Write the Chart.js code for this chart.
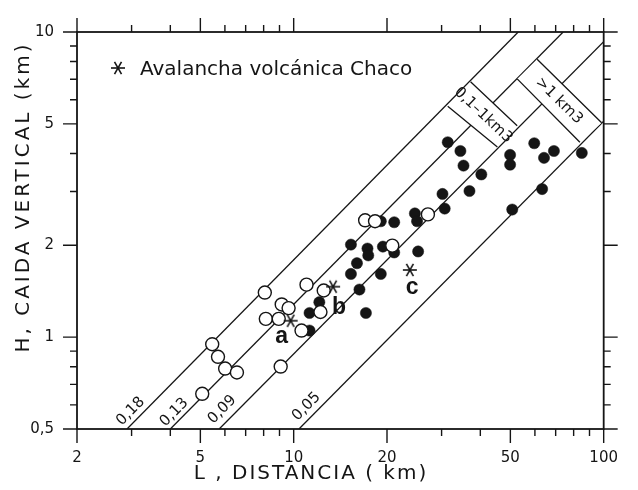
<!DOCTYPE html>
<html>
<head>
<meta charset="utf-8">
<script src="https://cdn.jsdelivr.net/npm/chart.js@4.4.0/dist/chart.umd.min.js"></script>
<style>
  html, body { margin: 0; padding: 0; background: #fff; }
</style>
</head>
<body>
<canvas id="chart" width="638" height="490"></canvas>
<script>
// axis ticks
const xTickValues = [2, 5, 10, 20, 50, 100];
const xTickLabels = ['2', '5', '10', '20', '50', '100'];
const xMinorTicks = [3, 4, 6, 7, 8, 9, 30, 40, 60, 70, 80, 90];
const yTickValues = [0.5, 1, 2, 5, 10];
const yTickLabels = ['0,5', '1', '2', '5', '10'];
const yMinorTicks = [0.6, 0.7, 0.8, 0.9, 3, 4, 6, 7, 8, 9];

// H/L reference lines (ends)
const lineNames = ['0,18', '0,13', '0,09', '0,05'];
const lineStartL = [2.9, 4.0, 5.75, 10.4];
const lineStartH = [0.5, 0.5, 0.5, 0.5];
const lineEndL = [53, 74, 100, 100];
const lineEndH = [10, 10, 9.3, 5.1];
const lineLabelL = [2.98, 4.12, 5.88, 11.0];
const lineLabelH = [0.571, 0.567, 0.579, 0.592];

// open circles
const openL = [8.07, 9.15, 9.63, 8.13, 8.95, 11.0, 10.6, 5.46, 5.70, 6.01, 6.56, 5.07, 9.08, 17.0, 18.3, 20.8, 12.5, 12.2, 27.1];
const openH = [1.40, 1.28, 1.245, 1.148, 1.148, 1.486, 1.051, 0.948, 0.862, 0.789, 0.766, 0.652, 0.801, 2.415, 2.398, 1.995, 1.422, 1.209, 2.525];

// filled circles
const filledL = [11.25, 11.25, 12.1, 15.3, 17.3, 17.4, 19.4, 16.0, 15.3, 19.1, 16.3, 17.1, 19.1, 21.1, 24.6, 25.0, 25.2, 30.2, 36.9, 30.7, 31.4, 34.5, 35.3, 40.3, 49.9, 49.9, 59.7, 64.2, 69.1, 85.0, 63.3, 50.7, 21.1];
const filledH = [1.20, 1.051, 1.302, 2.01, 1.951, 1.853, 1.98, 1.747, 1.611, 1.611, 1.432, 1.20, 2.398, 2.38, 2.544, 2.398, 1.909, 2.946, 3.012, 2.638, 4.352, 4.074, 3.648, 3.414, 3.955, 3.674, 4.32, 3.869, 4.074, 4.015, 3.057, 2.619, 1.895];

// Chaco avalanches
const chacoNames = ['a', 'b', 'c'];
const chacoL = [9.78, 13.4, 23.7];
const chacoH = [1.132, 1.464, 1.66];
const chacoLabelL = [9.15, 14.0, 24.1];
const chacoLabelH = [1.0, 1.245, 1.453];

// volume boxes, corners in order (two on one line, two on the other)
const boxNames = ['0,1–1km3', '>1 km3'];
const boxL = [[31.4, 37.2, 52.6, 45.4], [52.6, 61.0, 98.5, 83.8]];
const boxH = [[5.71, 6.87, 4.93, 4.20], [7.02, 8.14, 5.04, 4.35]];

const legendText = 'Avalancha volcánica Chaco';
const xTitle = 'L , DISTANCIA ( km)';
const yTitle = 'H, CAIDA VERTICAL (km)';

const INK = '#151515';
const FONT = '"DejaVu Sans", sans-serif';

function makeStar(r, lw) {
  const c = document.createElement('canvas');
  const s = Math.ceil(2 * r + lw + 2);
  c.width = s; c.height = s;
  const g = c.getContext('2d');
  g.strokeStyle = INK;
  g.lineWidth = lw;
  g.translate(s / 2, s / 2);
  for (let i = 0; i < 3; i++) {
    const a = i * Math.PI / 3;
    g.beginPath();
    g.moveTo(-r * Math.cos(a), -r * Math.sin(a));
    g.lineTo(r * Math.cos(a), r * Math.sin(a));
    g.stroke();
  }
  return c;
}
const star = makeStar(7, 1.6);

const zip = (xs, ys) => xs.map((x, i) => ({ x: x, y: ys[i] }));

const lineSets = lineNames.map((name, i) => ({
  label: name,
  data: [{ x: lineStartL[i], y: lineStartH[i] }, { x: lineEndL[i], y: lineEndH[i] }],
  showLine: true,
  borderColor: INK,
  borderWidth: 1.3,
  pointRadius: 0,
  order: 10
}));

const decorations = {
  id: 'decorations',
  afterDatasetDraw(chart, args) {
    // boxes go over the lines but under the points
    if (args.index !== 0) return;
    const ctx = chart.ctx, x = chart.scales.x, y = chart.scales.y;
    boxNames.forEach((name, b) => {
      const p = boxL[b].map((l, k) => ({ x: x.getPixelForValue(l), y: y.getPixelForValue(boxH[b][k]) }));
      ctx.save();
      ctx.fillStyle = '#fff';
      ctx.beginPath();
      ctx.moveTo(p[0].x, p[0].y);
      for (let k = 1; k < 4; k++) ctx.lineTo(p[k].x, p[k].y);
      ctx.closePath();
      ctx.fill();
      ctx.strokeStyle = INK;
      ctx.lineWidth = 1.3;
      ctx.beginPath();
      ctx.moveTo(p[1].x, p[1].y); ctx.lineTo(p[2].x, p[2].y);
      ctx.moveTo(p[3].x, p[3].y); ctx.lineTo(p[0].x, p[0].y);
      ctx.stroke();
      const cx = (p[0].x + p[1].x + p[2].x + p[3].x) / 4;
      const cy = (p[0].y + p[1].y + p[2].y + p[3].y) / 4;
      const ang = Math.atan2(p[2].y - p[1].y, p[2].x - p[1].x);
      ctx.translate(cx, cy);
      ctx.rotate(ang);
      ctx.fillStyle = INK;
      ctx.font = '15px ' + FONT;
      ctx.textAlign = 'center';
      ctx.textBaseline = 'middle';
      ctx.fillText(name, 0, 0);
      ctx.restore();
    });
  },
  afterDatasetsDraw(chart) {
    const ctx = chart.ctx, x = chart.scales.x, y = chart.scales.y;
    const a = chart.chartArea;
    ctx.save();
    // frame
    ctx.strokeStyle = INK;
    ctx.lineWidth = 1.8;
    ctx.strokeRect(a.left, a.top, a.right - a.left, a.bottom - a.top);
    // tick marks, outward on all four sides
    ctx.lineWidth = 1.4;
    ctx.beginPath();
    const xt = (v, len) => {
      const px = x.getPixelForValue(v);
      ctx.moveTo(px, a.bottom); ctx.lineTo(px, a.bottom + len);
      ctx.moveTo(px, a.top); ctx.lineTo(px, a.top - len);
    };
    const yt = (v, len) => {
      const py = y.getPixelForValue(v);
      ctx.moveTo(a.left, py); ctx.lineTo(a.left - len, py);
      ctx.moveTo(a.right, py); ctx.lineTo(a.right + len, py);
    };
    xTickValues.forEach(v => xt(v, 14));
    xMinorTicks.forEach(v => xt(v, 7));
    yTickValues.forEach(v => yt(v, 14));
    yMinorTicks.forEach(v => yt(v, 7));
    ctx.stroke();

    ctx.fillStyle = INK;
    // line ratio labels
    ctx.font = '15px ' + FONT;
    ctx.textAlign = 'center';
    ctx.textBaseline = 'middle';
    lineNames.forEach((name, i) => {
      const p0x = x.getPixelForValue(lineStartL[i]), p0y = y.getPixelForValue(lineStartH[i]);
      const p1x = x.getPixelForValue(lineEndL[i]), p1y = y.getPixelForValue(lineEndH[i]);
      ctx.save();
      ctx.translate(x.getPixelForValue(lineLabelL[i]), y.getPixelForValue(lineLabelH[i]));
      ctx.rotate(Math.atan2(p1y - p0y, p1x - p0x));
      ctx.fillText(name, 0, 0);
      ctx.restore();
    });
    // a, b, c
    ctx.font = 'bold 23px "Liberation Sans", sans-serif';
    chacoNames.forEach((name, i) => {
      ctx.fillText(name, x.getPixelForValue(chacoLabelL[i]), y.getPixelForValue(chacoLabelH[i]));
    });
    // legend
    ctx.drawImage(star, a.left + 41 - star.width / 2, a.top + 36 - star.height / 2);
    ctx.font = '20px ' + FONT;
    ctx.textAlign = 'left';
    ctx.textBaseline = 'alphabetic';
    ctx.fillText(legendText, a.left + 63, a.top + 43);
    // axis titles
    ctx.textAlign = 'center';
    ctx.textBaseline = 'middle';
    ctx.letterSpacing = '2px';
    ctx.fillText(xTitle, a.left + 234, a.bottom + 45);
    ctx.letterSpacing = '3px';
    ctx.save();
    ctx.translate(a.left - 53, a.top + 165);
    ctx.rotate(-Math.PI / 2);
    ctx.fillText(yTitle, 0, 0);
    ctx.restore();
    ctx.letterSpacing = '0px';
    ctx.restore();
  }
};

new Chart(document.getElementById('chart'), {
  type: 'scatter',
  data: {
    datasets: lineSets.concat([
      {
        label: 'Chaco',
        data: zip(chacoL, chacoH),
        pointStyle: star,
        pointRadius: 7,
        order: 0
      },
      {
        label: 'open',
        data: zip(openL, openH),
        pointRadius: 6.5,
        backgroundColor: '#fff',
        borderColor: INK,
        borderWidth: 1.4,
        order: 1
      },
      {
        label: 'filled',
        data: zip(filledL, filledH),
        pointRadius: 5.6,
        backgroundColor: INK,
        borderColor: INK,
        borderWidth: 0.5,
        order: 2
      }
    ])
  },
  options: {
    responsive: false,
    animation: false,
    devicePixelRatio: 1,
    layout: { padding: { top: 22, right: 31, left: 0, bottom: 0 } },
    plugins: { legend: { display: false }, tooltip: { enabled: false } },
    scales: {
      x: {
        type: 'logarithmic',
        min: 2,
        max: 100,
        afterBuildTicks: s => { s.ticks = xTickValues.map(v => ({ value: v })); },
        afterFit: s => { s.height = 61; },
        ticks: {
          callback: (v, i) => xTickLabels[i],
          font: { family: 'DejaVu Sans', size: 15 },
          color: INK,
          padding: 20,
          maxRotation: 0,
          autoSkip: false
        },
        grid: { display: false, drawTicks: false },
        border: { display: false }
      },
      y: {
        type: 'logarithmic',
        min: 0.5,
        max: 10,
        afterBuildTicks: s => { s.ticks = yTickValues.map(v => ({ value: v })); },
        afterFit: s => { s.width = 77; },
        ticks: {
          callback: (v, i) => yTickLabels[i],
          font: { family: 'DejaVu Sans', size: 15 },
          color: INK,
          padding: 23,
          autoSkip: false
        },
        grid: { display: false, drawTicks: false },
        border: { display: false }
      }
    }
  },
  plugins: [decorations]
});
</script>
</body>
</html>
